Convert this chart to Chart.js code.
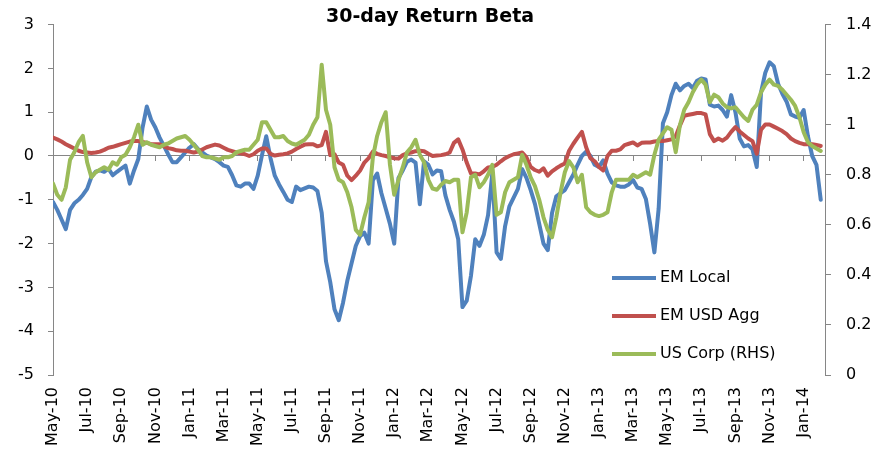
<!DOCTYPE html>
<html>
<head>
<meta charset="utf-8">
<script src="https://cdn.jsdelivr.net/npm/chart.js@4"></script>
<style>
  body { margin: 0; background: #fff; }
</style>
</head>
<body>
<canvas id="chart" width="888" height="452"></canvas>
<script>
const chartTitle = '30-day Return Beta'
const seriesNames = ['EM Local', 'EM USD Agg', 'US Corp (RHS)']
const tickLabels = [
    'May-10', 'Jul-10', 'Sep-10', 'Nov-10', 'Jan-11', 'Mar-11', 'May-11', 'Jul-11',
    'Sep-11', 'Nov-11', 'Jan-12', 'Mar-12', 'May-12', 'Jul-12', 'Sep-12', 'Nov-12',
    'Jan-13', 'Mar-13', 'May-13', 'Jul-13', 'Sep-13', 'Nov-13', 'Jan-14',
]

// readings taken about once a week (4 per month), starting May-10
const emLocal = [
    -1.05, -1.23, -1.45, -1.67, -1.23, -1.08, -1.0, -0.89, -0.75, -0.48, -0.36, -0.33,
    -0.36, -0.29, -0.44, -0.36, -0.29, -0.22, -0.63, -0.33, -0.07, 0.65, 1.13, 0.83,
    0.65, 0.42, 0.23, 0.04, -0.14, -0.14, -0.03, 0.08, 0.19, 0.27, 0.16, 0.08,
    0.01, -0.03, -0.07, -0.14, -0.22, -0.25, -0.44, -0.67, -0.70, -0.63, -0.63, -0.75,
    -0.45, 0.02, 0.45, -0.05, -0.45, -0.65, -0.82, -1.0, -1.05, -0.70, -0.78, -0.74,
    -0.70, -0.72, -0.80, -1.3, -2.4, -2.88, -3.5, -3.75, -3.35, -2.85, -2.45, -2.05,
    -1.83, -1.75, -2.0, -0.55, -0.4, -0.85, -1.2, -1.55, -2.0, -0.5, -0.33, -0.13,
    -0.08, -0.15, -1.1, -0.12, -0.2, -0.42, -0.33, -0.35, -0.9, -1.23, -1.5, -1.9,
    -3.45, -3.3, -2.73, -1.9, -2.05, -1.8, -1.35, -0.4, -2.2, -2.35, -1.6, -1.15,
    -0.95, -0.75, -0.3, -0.5, -0.78, -1.1, -1.55, -2.0, -2.15, -1.3, -0.92, -0.85,
    -0.78, -0.6, -0.42, -0.2, 0.0, 0.10, 0.0, -0.2, -0.25, -0.1, -0.4, -0.6,
    -0.67, -0.70, -0.70, -0.65, -0.55, -0.72, -0.75, -0.98, -1.55, -2.2, -1.2, 0.75,
    1.0, 1.39, 1.65, 1.5, 1.6, 1.65, 1.55, 1.72, 1.77, 1.75, 1.17, 1.13,
    1.15, 1.05, 0.9, 1.39, 1.0, 0.4, 0.22, 0.25, 0.15, -0.25, 1.45, 1.9,
    2.14, 2.05, 1.65, 1.42, 1.24, 0.95, 0.9, 0.87, 1.05, 0.45, 0.0, -0.2,
    -1.0,
]
const emUsdAgg = [
    0.42, 0.38, 0.33, 0.27, 0.22, 0.17, 0.12, 0.09, 0.08, 0.07, 0.08, 0.10,
    0.14, 0.19, 0.21, 0.24, 0.27, 0.30, 0.33, 0.34, 0.34, 0.32, 0.30, 0.27,
    0.27, 0.27, 0.22, 0.18, 0.16, 0.13, 0.12, 0.12, 0.10, 0.08, 0.10, 0.15,
    0.20, 0.23, 0.26, 0.24, 0.19, 0.14, 0.11, 0.08, 0.06, 0.04, 0.0, 0.04,
    0.12, 0.17, 0.17, 0.05, 0.01, 0.03, 0.04, 0.06, 0.10, 0.16, 0.21, 0.26,
    0.27, 0.27, 0.22, 0.25, 0.55, 0.02, 0.04, -0.15, -0.2, -0.45, -0.55, -0.45,
    -0.33, -0.15, -0.05, 0.1, 0.05, 0.02, 0.0, -0.03, -0.05, -0.06, 0.02, 0.06,
    0.08, 0.11, 0.12, 0.11, 0.05, 0.0, 0.01, 0.02, 0.04, 0.08, 0.30, 0.38,
    0.15, -0.15, -0.40, -0.40, -0.42, -0.35, -0.26, -0.25, -0.20, -0.12, -0.05, 0.0,
    0.04, 0.06, 0.08, -0.03, -0.25, -0.32, -0.36, -0.28, -0.45, -0.35, -0.28, -0.22,
    -0.17, 0.12, 0.28, 0.42, 0.55, 0.2, -0.05, -0.12, -0.25, -0.33, 0.0, 0.12,
    0.12, 0.15, 0.25, 0.28, 0.31, 0.24, 0.30, 0.31, 0.31, 0.33, 0.34, 0.34,
    0.36, 0.38, 0.45, 0.70, 0.92, 0.94, 0.96, 0.98, 0.98, 0.95, 0.50, 0.34,
    0.40, 0.35, 0.42, 0.55, 0.66, 0.56, 0.48, 0.40, 0.34, 0.05, 0.60, 0.72,
    0.72, 0.67, 0.62, 0.57, 0.50, 0.40, 0.34, 0.30, 0.27, 0.27, 0.27, 0.25,
    0.23,
]
const usCorp = [
    0.765, 0.72, 0.70, 0.75, 0.86, 0.89, 0.93, 0.955, 0.85, 0.79, 0.81, 0.82,
    0.83, 0.82, 0.85, 0.84, 0.87, 0.88, 0.91, 0.95, 1.0, 0.92, 0.93, 0.92,
    0.915, 0.91, 0.92, 0.925, 0.935, 0.945, 0.95, 0.955, 0.94, 0.92, 0.90, 0.875,
    0.87, 0.87, 0.865, 0.86, 0.87, 0.87, 0.875, 0.89, 0.895, 0.90, 0.90, 0.92,
    0.94, 1.01, 1.01, 0.98, 0.95, 0.95, 0.955, 0.935, 0.925, 0.92, 0.93, 0.94,
    0.96, 1.0, 1.03, 1.24, 1.06, 1.0, 0.83, 0.78, 0.77, 0.73, 0.67, 0.58,
    0.56, 0.63, 0.69, 0.87, 0.955, 1.01, 1.05, 0.84, 0.72, 0.78, 0.83, 0.89,
    0.91, 0.94, 0.88, 0.85, 0.78, 0.745, 0.74, 0.76, 0.775, 0.77, 0.78, 0.78,
    0.57, 0.65, 0.79, 0.80, 0.75, 0.77, 0.80, 0.84, 0.64, 0.65, 0.73, 0.77,
    0.78, 0.79, 0.88, 0.84, 0.79, 0.755, 0.70, 0.63, 0.58, 0.55, 0.63, 0.73,
    0.81, 0.855, 0.83, 0.77, 0.80, 0.67, 0.65, 0.64, 0.635, 0.64, 0.65, 0.73,
    0.78, 0.78, 0.78, 0.78, 0.80, 0.79, 0.80, 0.81, 0.80, 0.88, 0.94, 0.965,
    0.99, 0.98, 0.89, 1.0, 1.06, 1.09, 1.13, 1.16, 1.18, 1.16, 1.09, 1.12,
    1.11, 1.085, 1.07, 1.065, 1.07, 1.05, 1.03, 1.015, 1.06, 1.08, 1.13, 1.16,
    1.18, 1.16, 1.155, 1.14, 1.12, 1.10, 1.075, 1.03, 0.97, 0.93, 0.915, 0.905,
    0.895,
]

// months since May-10
const toPoints = values => values.map((v, i) => ({ x: i / 4, y: v }))

const axisGrey = '#868686'

// title and in-plot legend, Excel style
const overlay = {
    id: 'overlay',
    afterDraw(chart) {
        const ctx = chart.ctx
        ctx.save()
        ctx.fillStyle = '#000'
        ctx.textBaseline = 'middle'
        ctx.textAlign = 'center'
        ctx.font = 'bold 19px "DejaVu Sans"'
        ctx.fillText(chartTitle, 430, 17)

        ctx.textAlign = 'left'
        ctx.font = '16px "DejaVu Sans"'
        ctx.lineWidth = 4
        chart.data.datasets.forEach((ds, i) => {
            const y = 278 + i * 38
            ctx.strokeStyle = ds.borderColor
            ctx.beginPath()
            ctx.moveTo(612, y)
            ctx.lineTo(656, y)
            ctx.stroke()
            ctx.fillText(ds.label, 660, y)
        })
        ctx.restore()
    }
}

Chart.defaults.font.family = '"DejaVu Sans", sans-serif'
Chart.defaults.font.size = 16
Chart.defaults.color = '#000'

new Chart(document.getElementById('chart'), {
    type: 'line',
    data: {
        datasets: [
            {
                label: seriesNames[0],
                data: toPoints(emLocal),
                borderColor: '#4f81bd',
                yAxisID: 'y',
                order: 3,
            },
            {
                label: seriesNames[1],
                data: toPoints(emUsdAgg),
                borderColor: '#c0504d',
                yAxisID: 'y',
                order: 2,
            },
            {
                label: seriesNames[2],
                data: toPoints(usCorp),
                borderColor: '#9bbb59',
                yAxisID: 'y1',
                order: 1,
            },
        ],
    },
    options: {
        responsive: false,
        animation: false,
        layout: { padding: { top: 18 } },
        elements: {
            point: { radius: 0 },
            line: { borderWidth: 4, tension: 0, borderJoinStyle: 'round', borderCapStyle: 'round' },
        },
        plugins: {
            legend: { display: false },
            tooltip: { enabled: false },
        },
        scales: {
            x: {
                type: 'linear',
                position: 'bottom',
                min: 0,
                max: 45.25,
                grid: { display: false },
                border: { display: false },
                ticks: {
                    stepSize: 2,
                    includeBounds: false,
                    autoSkip: false,
                    maxRotation: 90,
                    minRotation: 90,
                    padding: 4,
                    callback: v => tickLabels[v / 2],
                },
                afterFit: s => { s.height = 77 },
            },
            // axis line through zero with the month tick marks
            x2: {
                type: 'linear',
                position: { y: 0 },
                min: 0,
                max: 45.25,
                grid: { drawOnChartArea: false, tickLength: 5, color: axisGrey },
                border: { color: axisGrey },
                ticks: { display: false, stepSize: 2, includeBounds: false },
            },
            y: {
                position: 'left',
                min: -5,
                max: 3,
                grid: { drawOnChartArea: false, tickLength: 5, color: axisGrey },
                border: { color: axisGrey },
                ticks: { stepSize: 1, padding: 14 },
                afterFit: s => { s.width = 53 },
            },
            y1: {
                position: 'right',
                min: 0,
                max: 1.4,
                grid: { drawOnChartArea: false, tickLength: 6, color: axisGrey },
                border: { color: axisGrey },
                ticks: { stepSize: 0.2, padding: 15, callback: v => String(+v.toFixed(1)) },
                afterFit: s => { s.width = 63 },
            },
        },
    },
    plugins: [overlay],
})
</script>
</body>
</html>
